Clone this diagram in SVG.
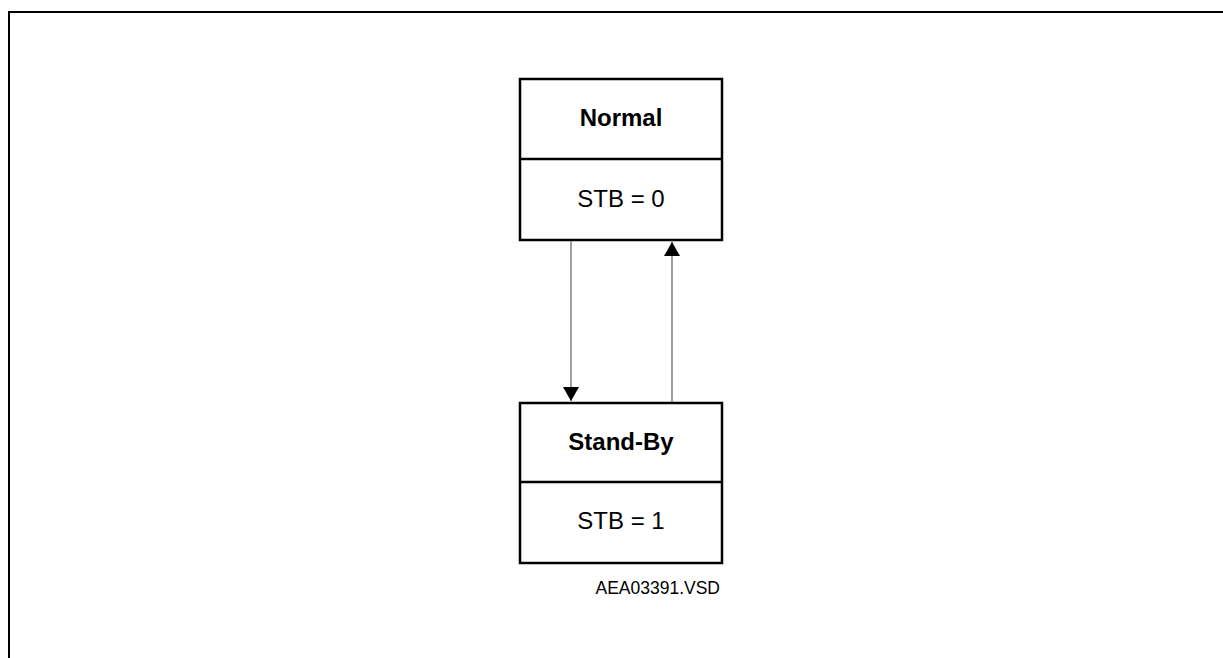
<svg xmlns="http://www.w3.org/2000/svg" width="1223" height="658" viewBox="0 0 1223 658">
<defs>
<style>
.frame{fill:none;stroke:#000;stroke-width:2}
.box{fill:#fff;stroke:#000;stroke-width:2.5}
.div{stroke:#000;stroke-width:2.5}
.conn{stroke:#6b6b6b;stroke-width:1.3;fill:none}
.t{font-family:"Liberation Sans",Arial,sans-serif;font-size:24px;fill:#000;text-anchor:middle}
.b{font-weight:bold}
.cap{font-family:"Liberation Sans",Arial,sans-serif;font-size:17.5px;fill:#000;text-anchor:end}
</style>
<marker id="ah" viewBox="0 0 14 16" refX="14" refY="8" markerWidth="14" markerHeight="16" markerUnits="userSpaceOnUse" orient="auto">
<path d="M0,0 L14,8 L0,16 Z" fill="#000"/>
</marker>
</defs>
<rect width="1223" height="658" fill="#fff"/>
<path class="frame" d="M9,658 V12 H1223"/>
<g id="normal">
<rect class="box" x="520" y="79" width="202" height="161"/>
<line class="div" x1="520" y1="159" x2="722" y2="159"/>
<text class="t b" x="621" y="126">Normal</text>
<text class="t" x="621" y="207">STB = 0</text>
</g>
<g id="standby">
<rect class="box" x="520" y="403" width="202" height="160"/>
<line class="div" x1="520" y1="482" x2="722" y2="482"/>
<text class="t b" x="621" y="450">Stand-By</text>
<text class="t" x="621" y="529">STB = 1</text>
</g>
<g id="connectors">
<line class="conn" x1="571" y1="241" x2="571" y2="401" marker-end="url(#ah)"/>
<line class="conn" x1="672" y1="402" x2="672" y2="242" marker-end="url(#ah)"/>
</g>
<text class="cap" x="720" y="594">AEA03391.VSD</text>
</svg>
